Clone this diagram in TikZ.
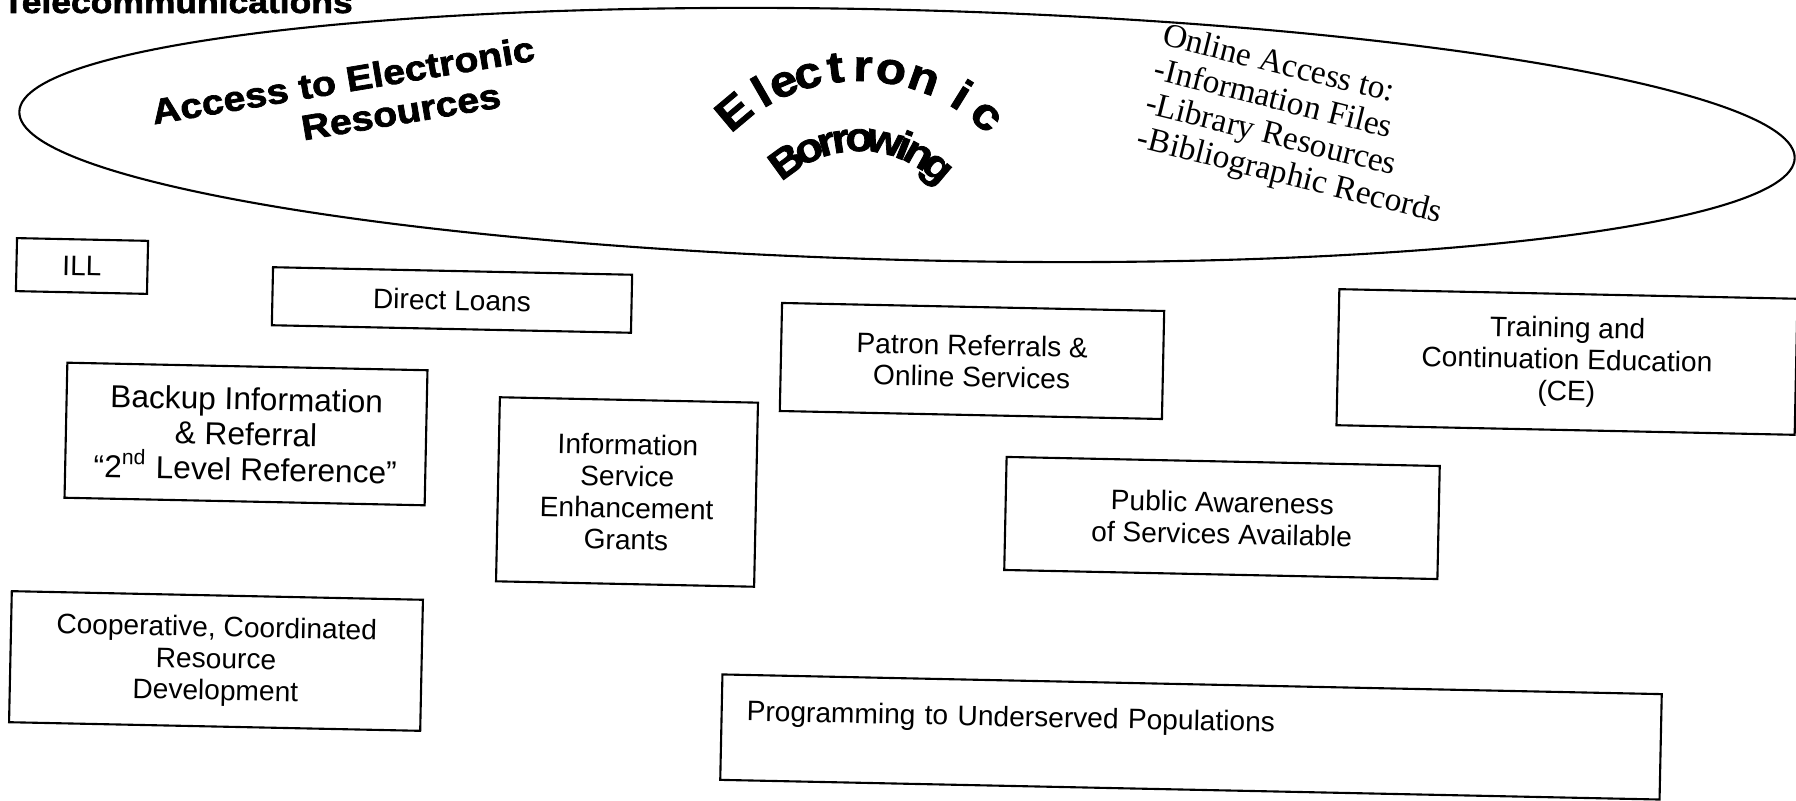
\documentclass[tikz,border=0pt]{standalone}
\usepackage{fontspec}
\setmainfont{Liberation Sans}
\newfontfamily\serifpart{Liberation Serif}
\newfontfamily\heavyfont{Liberation Sans}[FakeStretch=1.12,BoldFeatures={FakeBold=2}]
\usepackage{tikz}
\tikzstyle{box}=[draw,line width=0.6pt,rotate=-1.2,align=center,inner sep=2pt,font=\fontsize{8}{9}\selectfont]
\tikzstyle{heavytext}=[inner sep=0pt,font=\heavyfont\bfseries\fontsize{10}{12}\selectfont]
\tikzstyle{arcletter}=[inner sep=0pt,anchor=base,font=\heavyfont\bfseries\fontsize{12.5}{13}\selectfont]
\tikzstyle{online}=[inner sep=0pt,align=left,font=\serifpart\fontsize{9.5}{10}\selectfont]

\begin{document}
\begin{tikzpicture}[x=0.01cm,y=-0.01cm]
    \useasboundingbox (0,0) rectangle (1796,801);
    % Title, cut off at the top
    \node[heavytext,anchor=base west,font=\heavyfont\bfseries\fontsize{9}{10}\selectfont] (title) at (2,13) {Telecommunications};
    % First we draw the big ellipse
    \draw[line width=0.6pt,rotate around={-1.5:(907,135)}] (907,135) ellipse [x radius=888,y radius=125];
    \node[heavytext,rotate=9.5] (access) at (343,80) {Access to Electronic};
    \node[heavytext,rotate=9.5] (resources) at (401,112) {Resources};
    % Letters on the two arcs
    \coordinate (arcmid) at (859,261);
    \foreach \ch/\ang in {E/-40,l/-30,e/-23,c/-15.4,t/-7,r/1.2,o/9.6,n/19.6,i/31.8,c/41.3}
        \node[arcletter,rotate={-(\ang)}] at ([shift={(-90+\ang:180)}]arcmid) {\ch};
    \foreach \ch/\ang in {B/-36,o/-24.3,r/-15.5,r/-8.7,o/0.1,w/12.2,i/21.5,n/29.3,g/40}
        \node[arcletter,rotate={-(\ang)},font=\heavyfont\bfseries\fontsize{11.5}{12}\selectfont] at ([shift={(-90+\ang:110)}]arcmid) {\ch};
    \node[online,rotate=-14] (onlineaccess) at (1302,126) {Online Access to:\\-Information Files\\-Library Resources\\-Bibliographic Records};
    % Then the boxes
    \foreach \pos/\name/\bw/\bh/\txt in {{(82,266)/ill/1.31/0.53/{ILL}},
        {(452,300)/direct/3.59/0.58/{Direct Loans}},
        {(627,492)/grants/2.58/1.84/{Information\\Service\\Enhancement\\Grants}},
        {(972,361)/patron/3.82/1.08/{Patron Referrals \&\\Online Services}},
        {(1567,362)/training/4.58/1.36/{Training and\\Continuation Education\\(CE)}},
        {(1222,518)/public/4.33/1.13/{Public Awareness\\of Services Available}},
        {(216,661)/coop/4.11/1.31/{Cooperative, Coordinated\\Resource\\Development}}}
        \node[box,minimum width=\bw cm,minimum height=\bh cm] (\name) at \pos {\txt};
    \node[box,minimum width=3.60cm,minimum height=1.35cm,font=\fontsize{9}{10}\selectfont] (backup) at (246,434) {Backup Information\\\& Referral\\``2\textsuperscript{nd} Level Reference''};
    \node[box,align=left,text width=8.89cm,inner xsep=0.25cm,inner ysep=0.255cm,text depth=0.34cm] (programming) at (1191,737) {Programming to Underserved Populations};
\end{tikzpicture}
\end{document}
